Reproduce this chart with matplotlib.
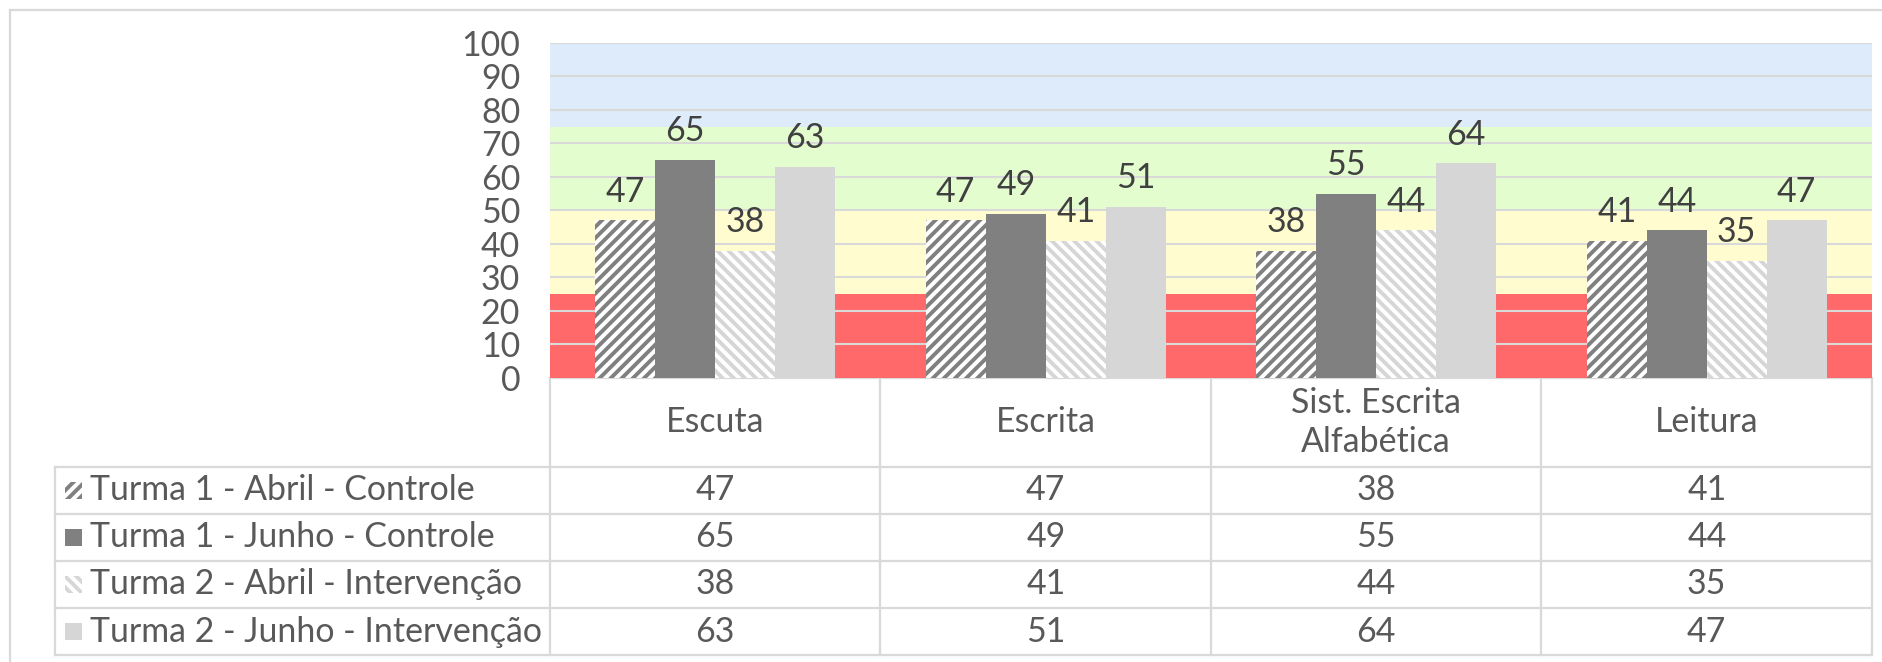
import numpy as np
import matplotlib
matplotlib.use("Agg")
import matplotlib.pyplot as plt
from matplotlib.patches import Rectangle

categories = ["Escuta", "Escrita", "Sist. Escrita\nAlfabética", "Leitura"]
series_names = [
    "Turma 1 - Abril - Controle",
    "Turma 1 - Junho - Controle",
    "Turma 2 - Abril - Intervenção",
    "Turma 2 - Junho - Intervenção",
]
t1_abril = [47, 47, 38, 41]
t1_junho = [65, 49, 55, 44]
t2_abril = [38, 41, 44, 35]
t2_junho = [63, 51, 64, 47]
values = [t1_abril, t1_junho, t2_abril, t2_junho]

# band limits (red / yellow / green / blue)
bands = [(0, 25, "#FF6969"), (25, 50, "#FFFDD0"), (50, 75, "#E4FDCF"), (75, 100, "#DDEBFA")]

styles = [
    dict(facecolor="white", edgecolor="#808080", hatch="///"),
    dict(facecolor="#808080", edgecolor="#808080", hatch=None),
    dict(facecolor="white", edgecolor="#D6D6D6", hatch="\\\\\\"),
    dict(facecolor="#D6D6D6", edgecolor="#D6D6D6", hatch=None),
]

plt.rcParams["font.family"] = ["Lato", "DejaVu Sans"]
plt.rcParams["hatch.linewidth"] = 2.8

W, H = 1883, 662
TXT = "#595959"
GRID = "#D9D9D9"
FS = 24.4

fig = plt.figure(figsize=(W / 100, H / 100), dpi=100)

# pixel overlay for table / borders
px = fig.add_axes([0, 0, 1, 1])
px.set_xlim(0, W)
px.set_ylim(H, 0)
px.axis("off")

x0, x1 = 550, 1872
y_top, y_zero = 42.7, 378
ax = fig.add_axes([x0 / W, (H - y_zero) / H, (x1 - x0) / W, (y_zero - y_top) / H])
for lo, hi, c in bands:
    ax.axhspan(lo, hi, color=c, lw=0, zorder=0)
for g in range(10, 101, 10):
    ax.axhline(g, color=GRID, lw=1.5, zorder=1)

n = len(categories)
bw = 60 / 330.5
xs = np.arange(n) + 0.5
for k, (vals, st) in enumerate(zip(values, styles)):
    pos = xs + (k - 1.5) * bw
    ax.bar(pos, vals, width=bw, lw=0, zorder=2, **st)
    for p, v in zip(pos, vals):
        ax.annotate(str(v), (p, v), xytext=(0, 13.5), textcoords="offset points",
                    ha="center", va="baseline", fontsize=FS, color="#404040")

ax.set_xlim(0, n)
ax.set_ylim(0, 100)
ax.set_xticks([])
ax.set_yticks(range(0, 101, 10))
ax.tick_params(axis="y", length=0, pad=21.5, labelsize=FS, labelcolor=TXT)
for s in ax.spines.values():
    s.set_visible(False)

# outer chart border
lw_t = 1.6
px.plot([10, 10], [H, 10], color=GRID, lw=lw_t)
px.plot([10, W], [10, 10], color=GRID, lw=lw_t)

# data table
leg_x = 55
row_y = [466.7, 513.5, 561, 608, 655]
cw = (x1 - x0) / n
col_x = [x0 + i * cw for i in range(n + 1)]
px.plot([x0, x1], [y_zero, y_zero], color=GRID, lw=lw_t)
for y in row_y:
    px.plot([leg_x, x1], [y, y], color=GRID, lw=lw_t)
for x in col_x:
    px.plot([x, x], [y_zero, row_y[-1]], color=GRID, lw=lw_t)
px.plot([leg_x, leg_x], [row_y[0], row_y[-1]], color=GRID, lw=lw_t)

for i, c in enumerate(categories):
    px.text(col_x[i] + cw / 2, (y_zero + row_y[0]) / 2, c, ha="center", va="center",
            fontsize=FS, color=TXT, linespacing=1.25)

for k, (name, vals, st) in enumerate(zip(series_names, values, styles)):
    yc = (row_y[k] + row_y[k + 1]) / 2
    px.add_patch(Rectangle((65.5, yc - 8.5), 17, 17, lw=0, **st))
    px.text(90, yc, name, ha="left", va="center", fontsize=FS, color=TXT)
    for i, v in enumerate(vals):
        px.text(col_x[i] + cw / 2, yc, str(v), ha="center", va="center",
                fontsize=FS, color=TXT)

fig.savefig("out.png", dpi=100)
